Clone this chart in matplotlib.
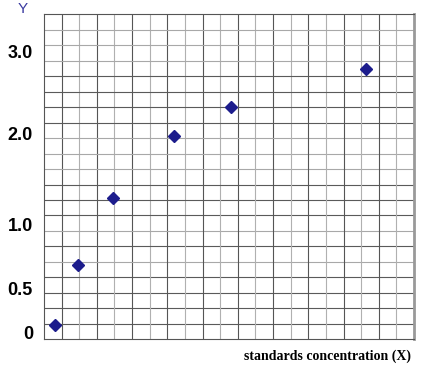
import numpy as np
import matplotlib.pyplot as plt

# standards: concentration (grid units) and read-out signal
conc = [0.62, 1.91, 3.93, 7.39, 10.63, 18.26]
signal = [0.085, 0.682, 1.289, 1.967, 2.324, 2.79]

ytick_vals = [0, 0.5, 1.0, 2.0, 3.0]
ytick_labels = ["0", "0.5", "1.0", "2.0", "3.0"]

# the printed y axis is not linear: value -> grid row
scale_vals = [-0.071, 0, 0.5, 1.0, 2.0, 3.0, 3.464]
scale_rows = [0, 0.41, 3.31, 7.45, 13.33, 18.57, 21]


def fwd(v):
    return np.interp(v, scale_vals, scale_rows)


def inv(r):
    return np.interp(r, scale_rows, scale_vals)


fig = plt.figure(figsize=(4.28, 3.74), dpi=100)
ax = fig.add_axes([44 / 428, 1 - 339.3 / 374, 370 / 428, 325 / 374])
ax.set_yscale("function", functions=(fwd, inv))
ax.set_xlim(0, 21)
ax.set_ylim(scale_vals[0], scale_vals[-1])

# grid paper (the horizontal rows are unevenly inked in the original)
light_rows = [5, 7, 11, 12, 13, 18, 19, 20]
for k in range(1, 21):
    col = "#555555" if k % 2 == 1 else "#b0b0b0"
    ax.axvline(k, color=col, lw=0.8, zorder=1)
    hcol = "#a8a8a8" if k in light_rows else "#5a5a5a"
    ax.axhline(inv(k), color=hcol, lw=0.8, zorder=1)

ax.plot(conc, signal, "D", color="#1c1c8c", markersize=6.5, zorder=3,
        linestyle="none")

ax.set_xticks([])
ax.set_yticks(ytick_vals, ytick_labels)
ax.yaxis.set_minor_locator(plt.NullLocator())
ax.tick_params(axis="y", length=0, pad=8)
for t in ax.get_yticklabels():
    t.set_fontfamily("Liberation Sans")
    t.set_fontweight("bold")
    t.set_fontsize(13)

for side in ["left", "top", "bottom"]:
    ax.spines[side].set_color("#555555")
    ax.spines[side].set_linewidth(0.8)
ax.spines["right"].set_color("#999999")
ax.spines["right"].set_linewidth(2)

fig.text(22.7 / 428, 1 - 9 / 374, "Y", color="#3a3aa0", fontsize=11,
         family="Liberation Sans", ha="center", va="center")
fig.text(410.7 / 428, 1 - 356.3 / 374, "standards concentration (X)",
         family="Liberation Serif", fontweight="bold", fontsize=10,
         ha="right", va="center")

fig.savefig("out.png", dpi=100)
